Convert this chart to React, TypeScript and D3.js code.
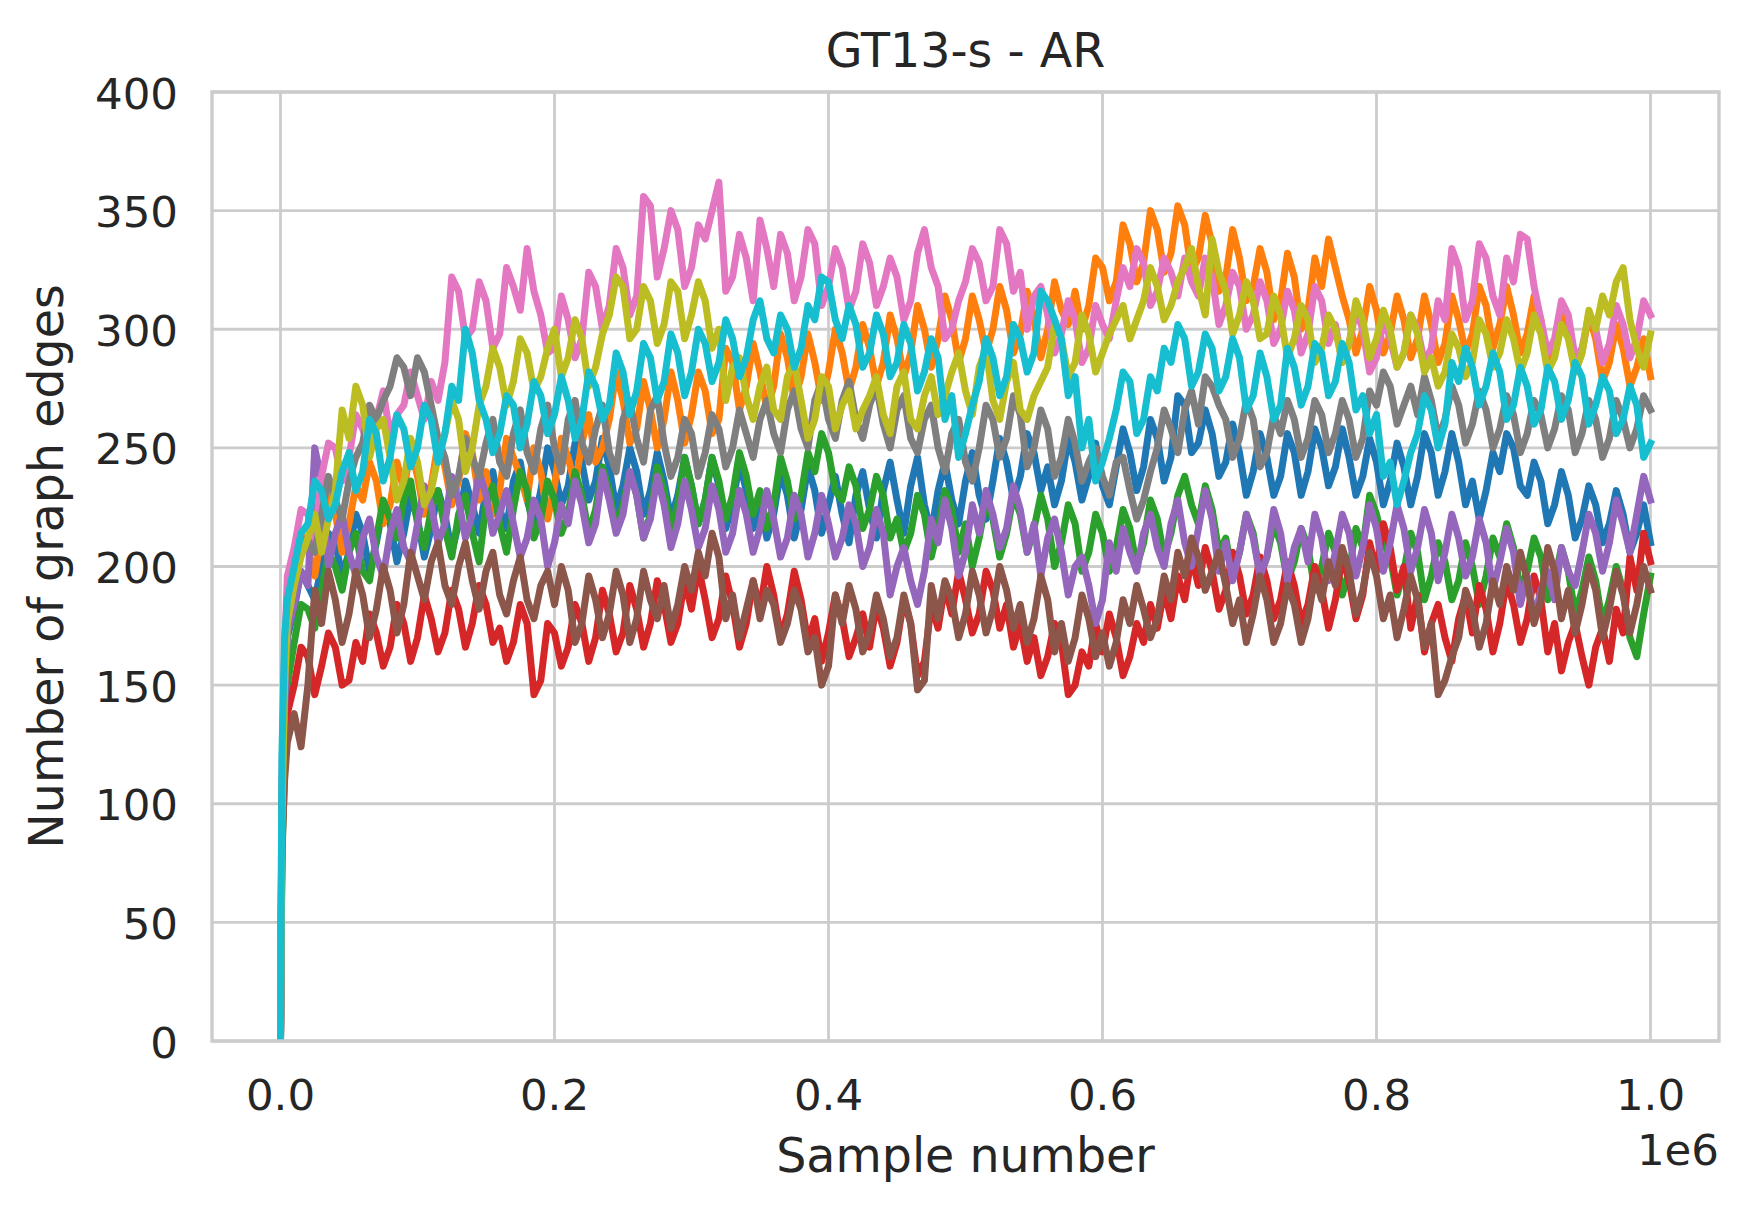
import React from 'react';
import * as d3 from 'd3';

const W = 1748;
const H = 1212;

// sample numbers in thousands
const sampleK = [0, 1, 3,
  5, 10, 15, 20, 25, 30, 35, 40, 45, 50, 55, 60, 65, 70, 75, 80, 85, 90, 95, 100,
  105, 110, 115, 120, 125, 130, 135, 140, 145, 150, 155, 160, 165, 170, 175, 180, 185, 190, 195, 200,
  205, 210, 215, 220, 225, 230, 235, 240, 245, 250, 255, 260, 265, 270, 275, 280, 285, 290, 295, 300,
  305, 310, 315, 320, 325, 330, 335, 340, 345, 350, 355, 360, 365, 370, 375, 380, 385, 390, 395, 400,
  405, 410, 415, 420, 425, 430, 435, 440, 445, 450, 455, 460, 465, 470, 475, 480, 485, 490, 495, 500,
  505, 510, 515, 520, 525, 530, 535, 540, 545, 550, 555, 560, 565, 570, 575, 580, 585, 590, 595, 600,
  605, 610, 615, 620, 625, 630, 635, 640, 645, 650, 655, 660, 665, 670, 675, 680, 685, 690, 695, 700,
  705, 710, 715, 720, 725, 730, 735, 740, 745, 750, 755, 760, 765, 770, 775, 780, 785, 790, 795, 800,
  805, 810, 815, 820, 825, 830, 835, 840, 845, 850, 855, 860, 865, 870, 875, 880, 885, 890, 895, 900,
  905, 910, 915, 920, 925, 930, 935, 940, 945, 950, 955, 960, 965, 970, 975, 980, 985, 990, 995, 1000];

const blueRun = [0, 95, 150,
  170, 182, 198, 192, 186, 200, 214, 210, 196, 206, 222, 214, 198, 210, 226, 218, 202, 214, 230, 220,
  204, 216, 232, 222, 206, 218, 236, 226, 214, 232, 240, 224, 216, 236, 244, 228, 218, 232, 250, 240,
  226, 234, 252, 244, 228, 236, 254, 242, 224, 234, 250, 240, 222, 232, 248, 236, 220, 230, 246, 234,
  218, 228, 246, 234, 216, 226, 244, 232, 216, 228, 212, 222, 240, 230, 212, 224, 242, 232, 214, 226,
  238, 222, 210, 230, 240, 224, 212, 232, 244, 228, 214, 234, 246, 226, 214, 232, 244, 228, 218, 236,
  248, 230, 220, 236, 254, 244, 228, 238, 256, 248, 232, 242, 226, 236, 254, 244, 228, 238, 252, 234,
  226, 242, 258, 248, 232, 242, 262, 254, 236, 246, 272, 268, 248, 252, 266, 256, 238, 244, 260, 248,
  230, 240, 256, 246, 230, 238, 256, 248, 230, 240, 258, 250, 234, 242, 258, 246, 230, 238, 254, 244,
  226, 236, 252, 242, 226, 238, 256, 248, 230, 240, 256, 244, 226, 236, 220, 232, 248, 240, 256, 250,
  234, 230, 244, 236, 218, 226, 240, 230, 212, 220, 234, 226, 210, 218, 232, 222, 206, 214, 226, 210];

const orangeRun = [0, 95, 150,
  185, 198, 214, 208, 196, 214, 230, 222, 206, 218, 234, 228, 244, 236, 218, 226, 244, 232, 250, 238,
  222, 234, 252, 242, 226, 236, 256, 248, 228, 240, 222, 232, 254, 246, 238, 228, 250, 240, 220, 234,
  254, 246, 234, 252, 264, 244, 250, 262, 282, 270, 252, 258, 278, 266, 250, 262, 282, 270, 252, 264,
  282, 274, 256, 262, 292, 286, 266, 276, 294, 282, 266, 276, 298, 288, 270, 280, 298, 286, 270, 282,
  300, 290, 274, 284, 302, 292, 276, 286, 306, 296, 280, 290, 310, 300, 284, 296, 314, 304, 286, 296,
  314, 304, 290, 300, 318, 308, 290, 298, 316, 304, 288, 300, 320, 308, 302, 316, 300, 310, 330, 326,
  312, 320, 344, 336, 320, 328, 350, 342, 324, 332, 352, 344, 324, 330, 348, 336, 316, 322, 342, 330,
  312, 318, 334, 324, 304, 312, 332, 322, 300, 308, 330, 318, 338, 326, 314, 304, 290, 300, 318, 308,
  290, 298, 314, 304, 288, 296, 314, 302, 286, 294, 314, 304, 290, 298, 318, 310, 292, 302, 318, 306,
  290, 298, 314, 304, 284, 294, 310, 300, 282, 290, 306, 296, 278, 286, 302, 292, 276, 284, 296, 280];

const greenRun = [0, 75, 115,
  150, 168, 184, 182, 174, 190, 206, 200, 190, 206, 214, 198, 194, 212, 228, 220, 212, 228, 236, 218,
  208, 224, 232, 216, 204, 222, 230, 214, 202, 226, 234, 218, 206, 224, 240, 232, 212, 220, 236, 228,
  214, 222, 240, 230, 214, 224, 242, 232, 216, 226, 240, 230, 212, 222, 242, 232, 216, 226, 246, 234,
  218, 228, 246, 236, 220, 230, 248, 238, 222, 232, 216, 226, 246, 236, 220, 230, 248, 240, 256, 248,
  232, 228, 242, 234, 216, 224, 238, 230, 212, 220, 206, 214, 230, 222, 204, 216, 232, 224, 206, 218,
  200, 212, 228, 220, 204, 214, 230, 222, 206, 216, 230, 220, 200, 210, 226, 218, 198, 206, 222, 214,
  198, 208, 224, 216, 200, 210, 228, 220, 204, 214, 230, 238, 226, 218, 234, 224, 206, 212, 196, 206,
  222, 214, 196, 204, 218, 210, 194, 202, 216, 208, 190, 200, 214, 206, 188, 198, 216, 208, 230, 222,
  210, 204, 188, 198, 214, 206, 186, 196, 210, 202, 186, 194, 210, 200, 184, 196, 212, 204, 218, 208,
  190, 198, 212, 204, 186, 194, 208, 198, 180, 190, 204, 194, 176, 186, 200, 190, 170, 162, 180, 196];

const redRun = [0, 80, 125,
  138, 150, 166, 162, 146, 158, 172, 166, 150, 152, 168, 160, 180, 172, 158, 166, 184, 176, 160, 170,
  188, 178, 164, 172, 190, 182, 166, 176, 192, 184, 168, 174, 160, 168, 184, 176, 146, 152, 176, 172,
  158, 166, 184, 176, 160, 170, 190, 180, 164, 172, 192, 182, 166, 176, 194, 184, 168, 176, 194, 182,
  200, 186, 170, 178, 196, 184, 166, 176, 194, 182, 200, 188, 170, 180, 198, 186, 168, 178, 160, 172,
  188, 178, 162, 170, 180, 166, 184, 174, 158, 168, 186, 176, 154, 160, 184, 174, 192, 180, 198, 186,
  172, 180, 198, 190, 174, 184, 166, 176, 160, 170, 154, 162, 176, 168, 146, 150, 164, 158, 176, 164,
  180, 170, 154, 162, 176, 168, 184, 174, 190, 178, 196, 186, 204, 192, 208, 198, 182, 190, 206, 196,
  180, 188, 204, 194, 178, 186, 202, 192, 176, 184, 200, 190, 174, 186, 204, 194, 178, 188, 210, 198,
  218, 208, 190, 200, 174, 188, 164, 176, 184, 170, 160, 178, 188, 172, 192, 182, 164, 176, 194, 184,
  168, 178, 196, 186, 164, 176, 156, 168, 176, 162, 150, 166, 174, 160, 182, 172, 204, 190, 214, 202];

const purpleRun = [0, 85, 140,
  172, 184, 198, 192, 250, 236, 200, 214, 222, 206, 196, 212, 220, 204, 196, 214, 224, 208, 202, 218,
  234, 226, 210, 218, 238, 228, 212, 222, 240, 230, 214, 222, 232, 218, 204, 212, 228, 220, 200, 210,
  226, 218, 236, 226, 210, 218, 240, 228, 214, 222, 240, 230, 212, 220, 238, 226, 208, 218, 236, 224,
  208, 216, 234, 224, 206, 214, 232, 222, 206, 216, 232, 220, 204, 212, 230, 222, 204, 214, 230, 218,
  204, 212, 226, 218, 200, 208, 224, 214, 188, 200, 208, 194, 184, 198, 220, 210, 228, 216, 196, 206,
  226, 214, 232, 222, 208, 216, 234, 224, 206, 218, 196, 212, 220, 206, 188, 200, 204, 192, 176, 186,
  210, 198, 216, 206, 198, 214, 222, 208, 200, 218, 228, 210, 200, 216, 232, 220, 198, 210, 194, 206,
  222, 212, 196, 204, 224, 214, 194, 208, 216, 202, 222, 212, 194, 206, 222, 214, 196, 208, 226, 216,
  198, 210, 226, 216, 198, 208, 224, 214, 194, 206, 222, 212, 196, 204, 220, 210, 190, 202, 216, 206,
  184, 196, 178, 190, 198, 186, 208, 198, 192, 206, 222, 214, 198, 210, 228, 218, 206, 222, 238, 228];

const brownRun = [0, 80, 110,
  126, 138, 124, 150, 190, 176, 198, 186, 168, 180, 198, 188, 170, 182, 200, 190, 172, 184, 206, 196,
  186, 202, 210, 192, 184, 200, 210, 194, 182, 198, 206, 188, 180, 194, 204, 186, 178, 192, 198, 184,
  200, 190, 168, 176, 196, 186, 170, 180, 198, 188, 168, 178, 198, 186, 178, 192, 174, 184, 200, 190,
  206, 196, 214, 204, 178, 188, 170, 182, 194, 178, 190, 184, 168, 176, 190, 182, 164, 170, 150, 158,
  188, 176, 192, 182, 164, 172, 188, 178, 162, 170, 188, 176, 148, 152, 192, 178, 194, 186, 170, 180,
  198, 188, 172, 182, 200, 190, 174, 184, 168, 178, 196, 186, 164, 176, 160, 170, 188, 178, 162, 172,
  158, 168, 186, 176, 192, 182, 170, 178, 196, 186, 206, 196, 212, 204, 190, 198, 206, 192, 176, 186,
  168, 180, 196, 186, 168, 176, 192, 184, 168, 178, 196, 186, 202, 192, 208, 198, 180, 190, 206, 196,
  178, 188, 170, 182, 196, 186, 166, 176, 146, 152, 162, 170, 190, 182, 166, 176, 194, 184, 200, 190,
  206, 194, 176, 186, 208, 198, 178, 190, 172, 184, 200, 190, 170, 182, 198, 188, 172, 184, 200, 190];

const pinkRun = [0, 110, 165,
  196, 208, 224, 222, 212, 238, 252, 250, 236, 246, 264, 258, 248, 262, 274, 255, 264, 268, 282, 272,
  262, 278, 270, 286, 322, 316, 296, 300, 320, 312, 292, 298, 326, 318, 308, 334, 316, 306, 290, 292,
  314, 304, 288, 296, 324, 318, 300, 310, 334, 326, 306, 314, 356, 352, 322, 334, 350, 342, 318, 326,
  344, 338, 350, 362, 316, 322, 340, 330, 312, 346, 334, 318, 340, 332, 312, 322, 342, 336, 310, 318,
  334, 326, 308, 316, 336, 328, 310, 318, 330, 322, 304, 312, 332, 342, 326, 318, 296, 300, 312, 320,
  334, 328, 312, 318, 342, 336, 316, 324, 300, 314, 318, 306, 290, 298, 312, 304, 286, 292, 310, 302,
  296, 312, 326, 318, 334, 328, 310, 316, 330, 324, 314, 330, 320, 314, 330, 322, 302, 310, 324, 318,
  300, 306, 320, 312, 294, 300, 316, 308, 290, 298, 318, 312, 294, 302, 286, 294, 308, 300, 282, 288,
  304, 296, 284, 290, 306, 300, 286, 292, 312, 304, 334, 326, 304, 312, 336, 330, 314, 306, 330, 320,
  340, 338, 318, 304, 290, 296, 312, 306, 288, 292, 306, 300, 286, 294, 310, 302, 288, 296, 312, 306];

const grayRun = [0, 100, 160,
  186, 196, 212, 210, 206, 222, 238, 228, 220, 236, 246, 252, 268, 262, 270, 276, 288, 284, 272, 288,
  282, 268, 254, 246, 230, 238, 254, 246, 238, 252, 262, 244, 238, 256, 266, 248, 240, 258, 268, 250,
  240, 262, 270, 252, 244, 258, 268, 248, 240, 262, 270, 254, 244, 266, 272, 252, 238, 246, 262, 256,
  238, 248, 264, 258, 242, 250, 266, 256, 246, 262, 270, 256, 248, 266, 274, 258, 250, 270, 278, 262,
  254, 270, 278, 262, 254, 268, 276, 260, 250, 266, 272, 254, 248, 262, 268, 250, 240, 256, 262, 244,
  236, 250, 268, 262, 246, 254, 272, 264, 242, 250, 266, 258, 238, 246, 262, 252, 236, 244, 250, 238,
  230, 244, 246, 232, 220, 228, 240, 250, 266, 258, 248, 266, 274, 260, 280, 276, 268, 262, 246, 254,
  270, 262, 242, 248, 264, 256, 270, 262, 246, 254, 270, 264, 248, 256, 270, 262, 246, 254, 274, 268,
  282, 276, 260, 268, 276, 264, 280, 270, 254, 262, 276, 268, 252, 260, 274, 266, 250, 258, 272, 264,
  248, 256, 270, 264, 250, 258, 272, 266, 248, 256, 270, 262, 246, 254, 270, 262, 250, 258, 272, 266];

const oliveRun = [0, 90, 150,
  176, 192, 204, 212, 222, 206, 220, 232, 266, 254, 276, 268, 246, 258, 262, 246, 228, 236, 254, 244,
  226, 232, 246, 256, 270, 262, 240, 250, 268, 276, 292, 284, 268, 278, 296, 290, 274, 280, 292, 300,
  280, 288, 304, 296, 276, 284, 298, 306, 322, 318, 296, 300, 318, 312, 294, 302, 320, 316, 296, 306,
  320, 312, 292, 300, 270, 284, 288, 272, 262, 276, 284, 266, 262, 280, 286, 270, 254, 262, 280, 276,
  258, 268, 274, 258, 266, 272, 280, 264, 256, 276, 282, 262, 258, 272, 280, 264, 272, 282, 290, 274,
  264, 284, 292, 270, 262, 278, 286, 266, 262, 272, 278, 284, 302, 296, 280, 286, 306, 298, 282, 290,
  298, 304, 310, 296, 304, 312, 326, 318, 304, 310, 320, 326, 334, 318, 306, 338, 324, 316, 298, 306,
  320, 312, 296, 298, 314, 306, 288, 296, 310, 304, 286, 292, 306, 300, 286, 294, 312, 304, 288, 296,
  308, 300, 284, 290, 306, 298, 282, 288, 276, 282, 298, 292, 280, 286, 304, 298, 284, 290, 304, 296,
  282, 290, 306, 298, 282, 288, 302, 296, 282, 290, 308, 300, 314, 306, 320, 326, 304, 292, 284, 298];

const cyanRun = [0, 120, 170,
  186, 200, 214, 218, 236, 232, 220, 226, 240, 248, 232, 240, 262, 256, 236, 246, 264, 258, 242, 250,
  268, 262, 244, 256, 276, 270, 300, 290, 270, 262, 248, 256, 272, 268, 250, 260, 278, 272, 256, 264,
  280, 270, 254, 262, 282, 276, 262, 268, 290, 282, 264, 274, 294, 288, 270, 278, 298, 290, 272, 282,
  300, 294, 278, 286, 304, 296, 280, 288, 304, 312, 296, 290, 306, 300, 284, 292, 310, 304, 322, 320,
  304, 296, 310, 302, 284, 290, 306, 298, 280, 286, 302, 294, 274, 282, 296, 288, 262, 272, 246, 256,
  268, 278, 296, 288, 272, 280, 302, 296, 282, 290, 316, 312, 304, 296, 272, 280, 250, 262, 236, 244,
  254, 266, 282, 278, 256, 262, 280, 274, 292, 286, 302, 296, 276, 282, 298, 292, 274, 280, 296, 288,
  266, 272, 290, 280, 262, 268, 292, 284, 268, 276, 294, 290, 272, 278, 294, 286, 266, 272, 256, 264,
  238, 244, 226, 236, 248, 256, 272, 266, 250, 260, 286, 278, 292, 284, 268, 276, 290, 282, 262, 268,
  284, 276, 260, 266, 284, 278, 262, 270, 286, 280, 260, 268, 280, 274, 256, 262, 276, 268, 246, 252];

const seriesRuns = [blueRun, orangeRun, greenRun, redRun, purpleRun, brownRun, pinkRun, grayRun, oliveRun, cyanRun];
const seriesColors = ['#1f77b4', '#ff7f0e', '#2ca02c', '#d62728', '#9467bd', '#8c564b', '#e377c2', '#7f7f7f', '#bcbd22', '#17becf'];

const xTicks = [0, 200000, 400000, 600000, 800000, 1000000];
const xTickLabels = ['0.0', '0.2', '0.4', '0.6', '0.8', '1.0'];
const yTicks = [0, 50, 100, 150, 200, 250, 300, 350, 400];

const titleText = 'GT13-s - AR';
const xLabelText = 'Sample number';
const yLabelText = 'Number of graph edges';
const offsetText = '1e6';

export default function App() {
  const left = 212, right = 1719, top = 92, bottom = 1041;
  const x = d3.scaleLinear().domain([-50000, 1050000]).range([left, right]);
  const y = d3.scaleLinear().domain([0, 400]).range([bottom, top]);
  const line = d3.line<number>()
    .defined((_, i) => i < sampleK.length)
    .x((_, i) => x(sampleK[i] * 1000))
    .y((d) => y(d));
  const font = 'DejaVu Sans, sans-serif';
  const txt = '#262626';
  const grid = '#cccccc';
  const cx = (left + right) / 2;
  const cy = (top + bottom) / 2;
  return (
    <svg width={W} height={H} style={{ position: 'absolute', left: 0, top: 0, background: '#fff' }}
      fontFamily={font}>
      <defs>
        <clipPath id="plot">
          <rect x={left} y={top} width={right - left} height={bottom - top} />
        </clipPath>
      </defs>
      <rect x={0} y={0} width={W} height={H} fill="#ffffff" />
      {xTicks.map((t) => (
        <line key={'gx' + t} x1={x(t)} x2={x(t)} y1={top} y2={bottom} stroke={grid} strokeWidth={2.8} />
      ))}
      {yTicks.map((t) => (
        <line key={'gy' + t} x1={left} x2={right} y1={y(t)} y2={y(t)} stroke={grid} strokeWidth={2.8} />
      ))}
      <g clipPath="url(#plot)">
        {seriesRuns.map((run, i) => (
          <path key={'s' + i} d={line(run) || ''} fill="none" stroke={seriesColors[i]}
            strokeWidth={7} strokeLinejoin="round" strokeLinecap="square" />
        ))}
      </g>
      <rect x={left} y={top} width={right - left} height={bottom - top} fill="none" stroke={grid} strokeWidth={3.4} />
      {xTicks.map((t, i) => (
        <text key={'tx' + t} x={x(t)} y={1110} fontSize={43.5} fill={txt} textAnchor="middle">{xTickLabels[i]}</text>
      ))}
      {yTicks.map((t) => (
        <text key={'ty' + t} x={178} y={y(t) + 16.5} fontSize={43.5} fill={txt} textAnchor="end">{t}</text>
      ))}
      <text x={right} y={1165} fontSize={43.5} fill={txt} textAnchor="end">{offsetText}</text>
      <text x={cx} y={66.7} fontSize={47.5} fill={txt} textAnchor="middle">{titleText}</text>
      <text x={cx} y={1172} fontSize={47.5} fill={txt} textAnchor="middle">{xLabelText}</text>
      <text transform={`translate(63,${cy}) rotate(-90)`} fontSize={47.5} fill={txt} textAnchor="middle">{yLabelText}</text>
    </svg>
  );
}
